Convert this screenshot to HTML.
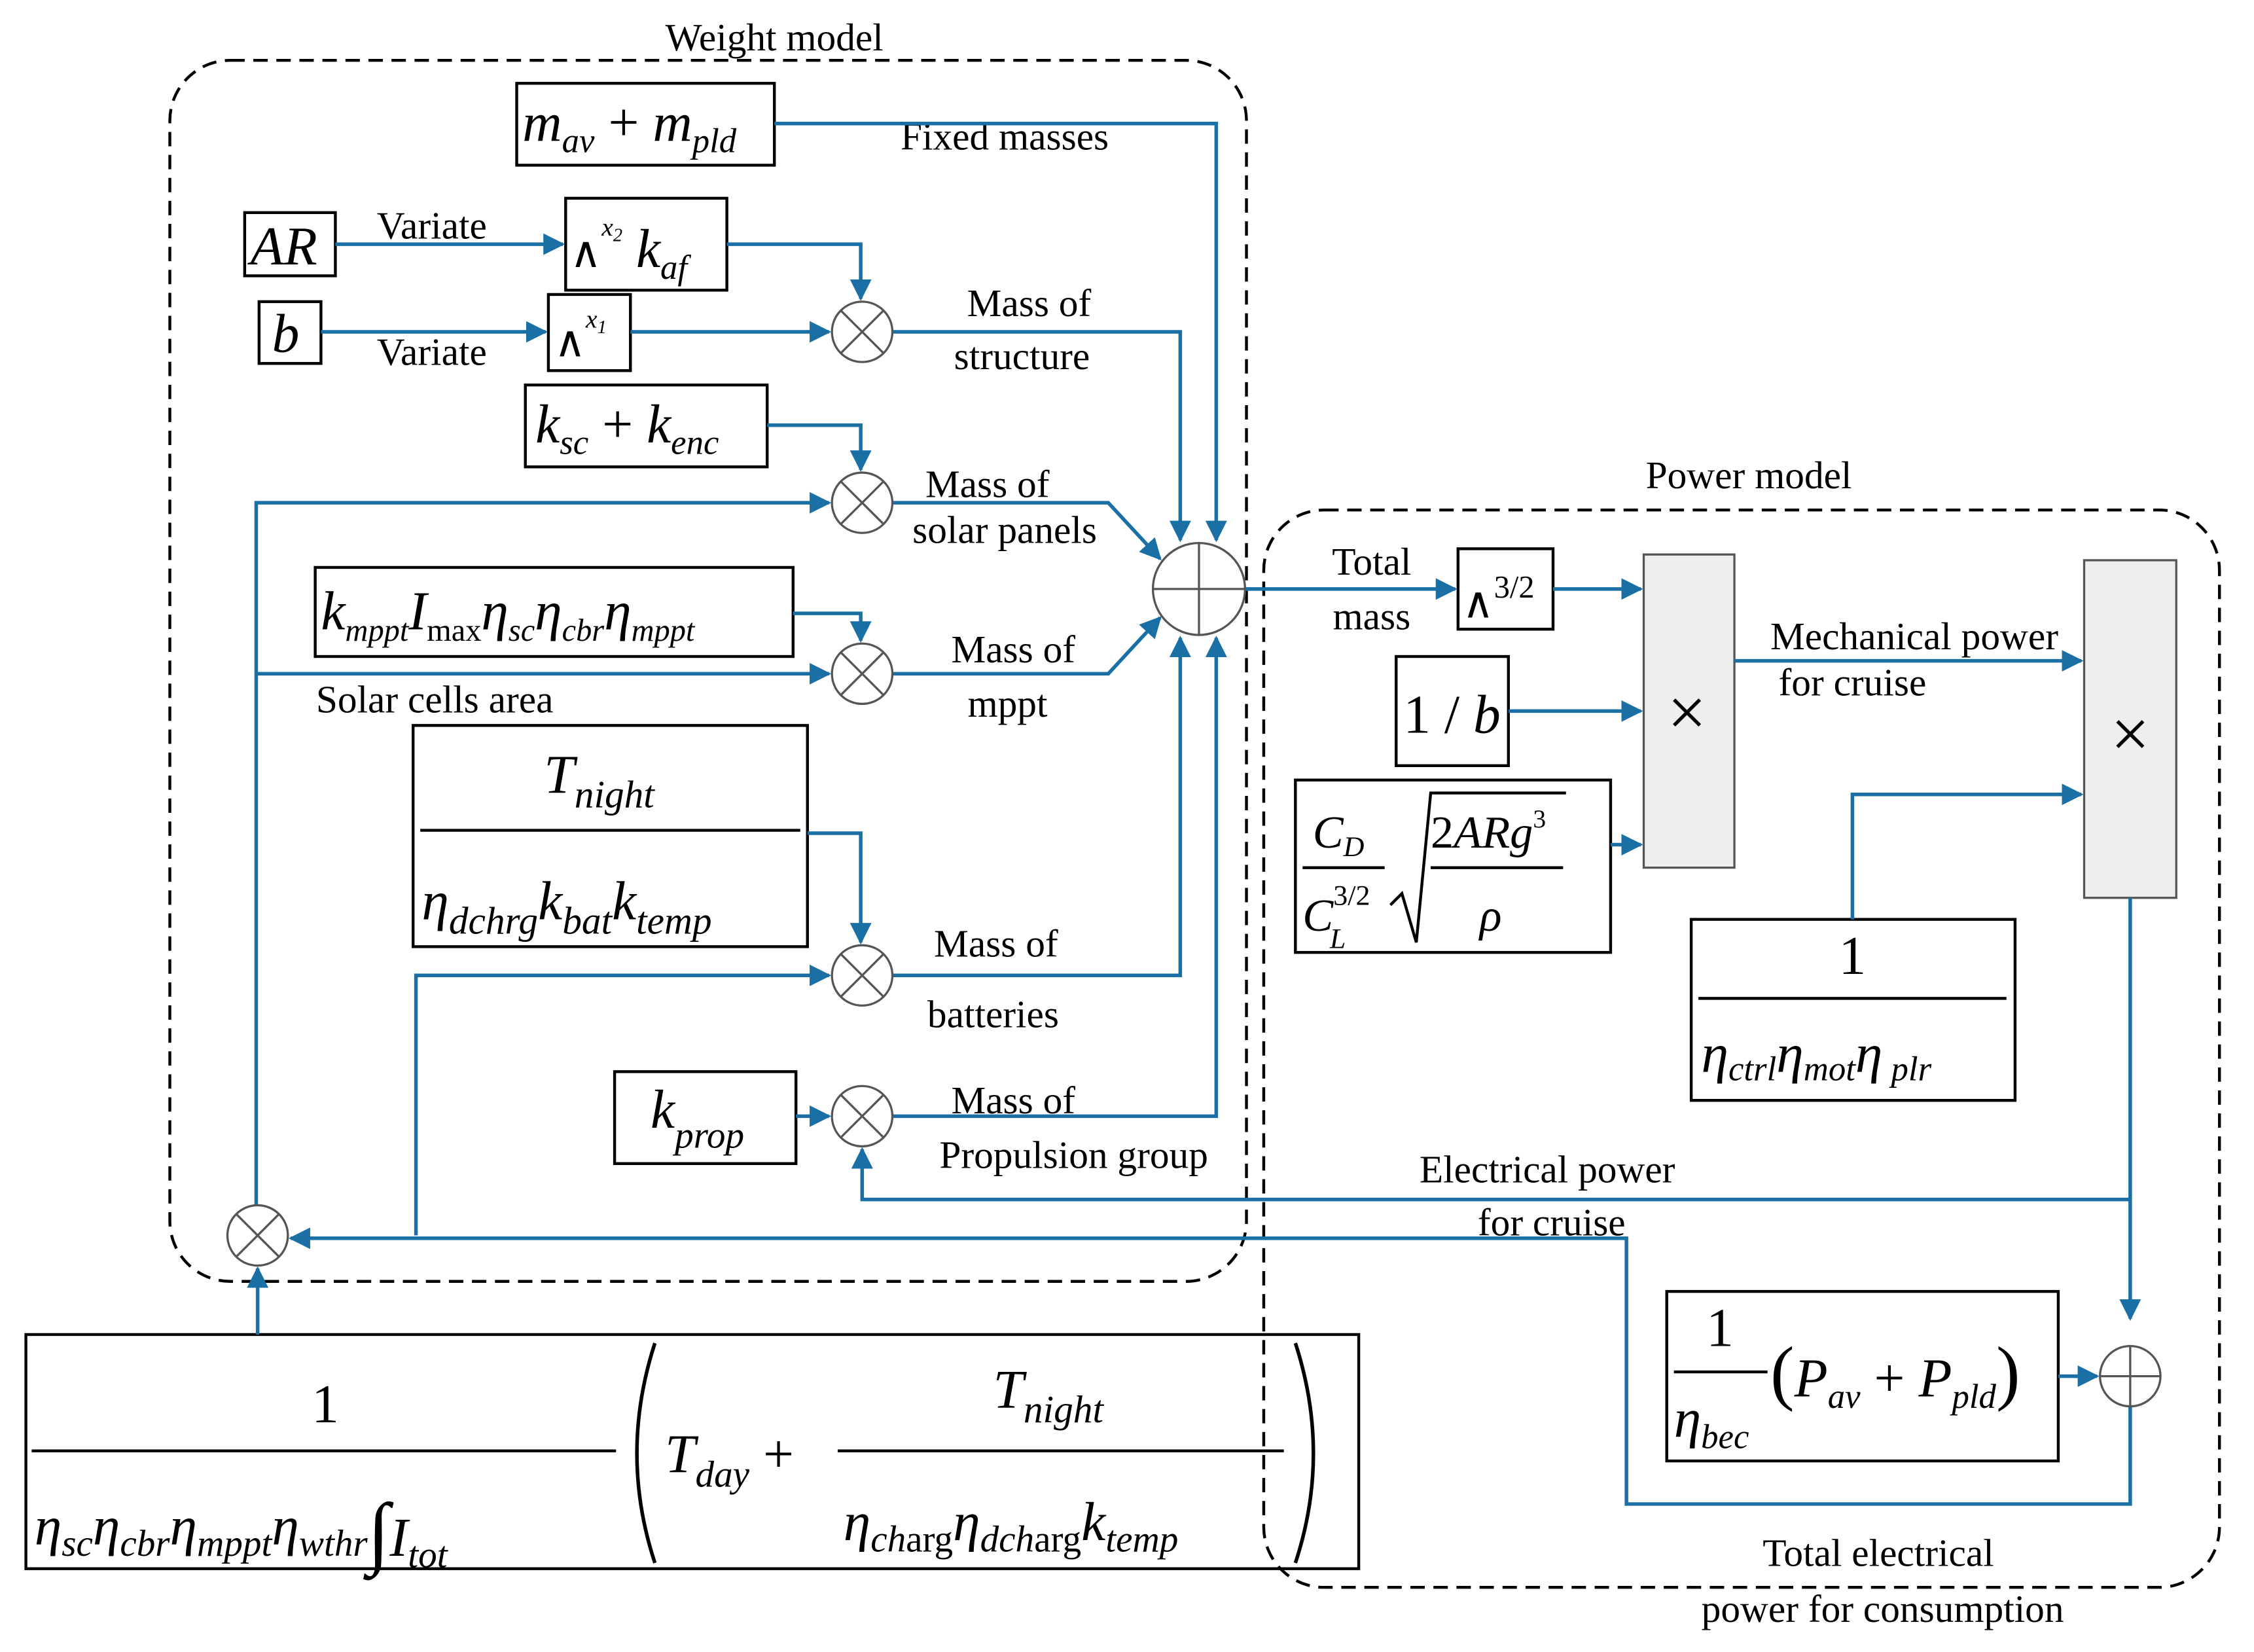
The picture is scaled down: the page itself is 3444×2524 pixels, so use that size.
<!DOCTYPE html>
<html><head><meta charset="utf-8"><style>html,body{margin:0;padding:0;background:#fff}svg{display:block}</style></head>
<body>
<svg width="3444" height="2524" viewBox="0 0 1566 1150" preserveAspectRatio="none" xmlns="http://www.w3.org/2000/svg" font-family="Liberation Serif, serif">
<defs>
<marker id="a" viewBox="0 0 10 10" refX="9" refY="5" markerWidth="6" markerHeight="6" orient="auto"><path d="M0,0 L10,5 L0,10 z" fill="#1a6fa5"/></marker>
</defs>
<rect x="118" y="42" width="748" height="850" rx="42" fill="none" stroke="#000" stroke-width="2" stroke-dasharray="10,6"/>
<rect x="878" y="355" width="664" height="750" rx="42" fill="none" stroke="#000" stroke-width="2" stroke-dasharray="10,6"/>
<g font-size="27" fill="#000">
<text x="538" y="35" text-anchor="middle">Weight model</text>
<text x="1215" y="340" text-anchor="middle">Power  model</text>
<text x="698" y="104" text-anchor="middle">Fixed masses</text>
<text x="300" y="166" text-anchor="middle">Variate</text>
<text x="300" y="254" text-anchor="middle">Variate</text>
<text x="715" y="220" text-anchor="middle">Mass of</text>
<text x="710" y="257" text-anchor="middle">structure</text>
<text x="686" y="346" text-anchor="middle">Mass of</text>
<text x="698" y="378" text-anchor="middle">solar panels</text>
<text x="704" y="461" text-anchor="middle">Mass of</text>
<text x="700" y="499" text-anchor="middle">mppt</text>
<text x="302" y="496" text-anchor="middle">Solar cells area</text>
<text x="692" y="666" text-anchor="middle">Mass of</text>
<text x="690" y="715" text-anchor="middle">batteries</text>
<text x="704" y="775" text-anchor="middle">Mass of</text>
<text x="746" y="813" text-anchor="middle">Propulsion group</text>
<text x="953" y="400" text-anchor="middle">Total</text>
<text x="953" y="438" text-anchor="middle">mass</text>
<text x="1330" y="452" text-anchor="middle">Mechanical power</text>
<text x="1287" y="484" text-anchor="middle">for cruise</text>
<text x="1075" y="823" text-anchor="middle">Electrical power</text>
<text x="1078" y="860" text-anchor="middle">for cruise</text>
<text x="1305" y="1090" text-anchor="middle">Total electrical</text>
<text x="1308" y="1129" text-anchor="middle">power for consumption</text>
</g>
<g fill="none" stroke="#000" stroke-width="2">
<rect x="359" y="58" width="179" height="57"/>
<rect x="170" y="148" width="63" height="44"/>
<rect x="393" y="138" width="112" height="64"/>
<rect x="180" y="210" width="43" height="43"/>
<rect x="381" y="205" width="57" height="53"/>
<rect x="365" y="268" width="168" height="57"/>
<rect x="219" y="395" width="332" height="62"/>
<rect x="287" y="505" width="274" height="154"/>
<rect x="427" y="746" width="126" height="64"/>
<rect x="18" y="929" width="926" height="163"/>
<rect x="1013" y="382" width="66" height="56"/>
<rect x="970" y="457" width="78" height="76"/>
<rect x="900" y="543" width="219" height="120"/>
<rect x="1175" y="640" width="225" height="126"/>
<rect x="1158" y="899" width="272" height="118"/>
</g>
<rect x="1142" y="386" width="63" height="218" fill="#eee" stroke="#555" stroke-width="1.5"/>
<rect x="1448" y="390" width="64" height="235" fill="#eee" stroke="#555" stroke-width="1.5"/>
<g fill="none" stroke="#1a6fa5" stroke-width="2.5">
<path d="M538,86 H845 V376" marker-end="url(#a)"/>
<path d="M233,170 H391" marker-end="url(#a)"/>
<path d="M505,170 H598 V208" marker-end="url(#a)"/>
<path d="M223,231 H379" marker-end="url(#a)"/>
<path d="M438,231 H576" marker-end="url(#a)"/>
<path d="M620,231 H820 V376" marker-end="url(#a)"/>
<path d="M533,296 H598 V327" marker-end="url(#a)"/>
<path d="M178,840 V350 H576" marker-end="url(#a)"/>
<path d="M620,350 H770 L806,389" marker-end="url(#a)"/>
<path d="M551,427 H598 V446" marker-end="url(#a)"/>
<path d="M178,469 H576" marker-end="url(#a)"/>
<path d="M620,469 H770 L806,430" marker-end="url(#a)"/>
<path d="M561,580 H598 V656" marker-end="url(#a)"/>
<path d="M289,860 V679 H576" marker-end="url(#a)"/>
<path d="M620,679 H820 V444" marker-end="url(#a)"/>
<path d="M553,777 H576" marker-end="url(#a)"/>
<path d="M620,777 H845 V444" marker-end="url(#a)"/>
<path d="M1480,625 V918" marker-end="url(#a)"/>
<path d="M1480,835 H599 V800" marker-end="url(#a)"/>
<path d="M1480,979 V1047 H1130 V862 H202" marker-end="url(#a)"/>
<path d="M179,929 V883" marker-end="url(#a)"/>
<path d="M865,410 H1011" marker-end="url(#a)"/>
<path d="M1079,410 H1140" marker-end="url(#a)"/>
<path d="M1048,495 H1140" marker-end="url(#a)"/>
<path d="M1119,588 H1140" marker-end="url(#a)"/>
<path d="M1205,460 H1446" marker-end="url(#a)"/>
<path d="M1287,640 V553 H1446" marker-end="url(#a)"/>
<path d="M1430,958 H1457" marker-end="url(#a)"/>
</g>
<g fill="#fff" stroke="#555" stroke-width="1.5">
<circle cx="599" cy="231" r="21"/><path d="M584,216 L614,246 M614,216 L584,246"/>
<circle cx="599" cy="350" r="21"/><path d="M584,335 L614,365 M614,335 L584,365"/>
<circle cx="599" cy="469" r="21"/><path d="M584,454 L614,484 M614,454 L584,484"/>
<circle cx="599" cy="679" r="21"/><path d="M584,664 L614,694 M614,664 L584,694"/>
<circle cx="599" cy="777" r="21"/><path d="M584,762 L614,792 M614,762 L584,792"/>
<circle cx="179" cy="860" r="21"/><path d="M164,845 L194,875 M194,845 L164,875"/>
<circle cx="833" cy="410" r="32"/><path d="M801,410 H865 M833,378 V442"/>
<circle cx="1480" cy="958" r="21"/><path d="M1459,958 H1501 M1480,937 V979"/>
</g>
<g font-size="48" fill="#000" text-anchor="middle"><text x="1172" y="512">×</text><text x="1480" y="527">×</text></g>
<g fill="#000" font-style="italic" font-size="38">
<text x="363" y="98">m<tspan font-size="24" dy="8">av</tspan><tspan font-style="normal" dy="-8"> + </tspan>m<tspan font-size="24" dy="8">pld</tspan></text>
<text x="174" y="184">AR</text>
<text x="396" y="186"><tspan font-style="normal" font-size="30">∧</tspan><tspan font-size="18" dy="-22">x</tspan><tspan font-size="13" dy="4">2</tspan><tspan dy="18"> k</tspan><tspan font-size="24" dy="8">af</tspan></text>
<text x="189" y="245">b</text>
<text x="385" y="248"><tspan font-style="normal" font-size="30">∧</tspan><tspan font-size="18" dy="-20">x</tspan><tspan font-size="13" dy="4">1</tspan></text>
<text x="372" y="308">k<tspan font-size="24" dy="8">sc</tspan><tspan font-style="normal" dy="-8"> + </tspan>k<tspan font-size="24" dy="8">enc</tspan></text>
<text x="223" y="438">k<tspan font-size="22" dy="8">mppt</tspan><tspan dy="-8">I</tspan><tspan font-size="22" font-style="normal" dy="8">max</tspan><tspan dy="-8">η</tspan><tspan font-size="22" dy="8">sc</tspan><tspan dy="-8">η</tspan><tspan font-size="22" dy="8">cbr</tspan><tspan dy="-8">η</tspan><tspan font-size="22" dy="8">mppt</tspan></text>
<text x="378" y="552">T<tspan font-size="27" dy="10">night</tspan></text>
<line x1="292" y1="578" x2="556" y2="578" stroke="#000" stroke-width="2"/>
<text x="293" y="640">η<tspan font-size="27" dy="10">dchrg</tspan><tspan dy="-10">k</tspan><tspan font-size="27" dy="10">bat</tspan><tspan dy="-10">k</tspan><tspan font-size="27" dy="10">temp</tspan></text>
<text x="452" y="785">k<tspan font-size="26" dy="14">prop</tspan></text>
<text x="1016" y="430"><tspan font-style="normal" font-size="30">∧</tspan><tspan font-size="22" font-style="normal" dy="-14">3/2</tspan></text>
<text x="975" y="510" font-style="normal">1 / <tspan font-style="italic">b</tspan></text>
<text x="912" y="590" font-size="32">C<tspan font-size="20" dy="6">D</tspan></text>
<line x1="905" y1="604" x2="962" y2="604" stroke="#000" stroke-width="2"/>
<text x="905" y="648" font-size="32">C<tspan font-size="20" dy="-18" font-style="normal">3/2</tspan><tspan font-size="20" dx="-28" dy="30">L</tspan></text>
<path d="M966,630 L974,622 L984,656 L994,552 L1088,552" fill="none" stroke="#000" stroke-width="2"/>
<text x="994" y="590" font-size="32"><tspan font-style="normal">2</tspan>ARg<tspan font-size="18" font-style="normal" dy="-14">3</tspan></text>
<line x1="994" y1="604" x2="1086" y2="604" stroke="#000" stroke-width="2"/>
<text x="1028" y="648" font-size="32">ρ</text>
<text x="1287" y="678" font-style="normal" text-anchor="middle">1</text>
<line x1="1180" y1="695" x2="1394" y2="695" stroke="#000" stroke-width="2"/>
<text x="1182" y="746">η<tspan font-size="24" dy="6">ctrl</tspan><tspan dy="-6">η</tspan><tspan font-size="24" dy="6">mot</tspan><tspan dy="-6">η</tspan><tspan font-size="24" dy="6"> plr</tspan></text>
<text x="1195" y="937" font-style="normal" text-anchor="middle">1</text>
<line x1="1163" y1="955" x2="1228" y2="955" stroke="#000" stroke-width="2"/>
<text x="1163" y="1000">η<tspan font-size="24" dy="8">bec</tspan></text>
<text x="1230" y="972"><tspan font-style="normal" font-size="50">(</tspan>P<tspan font-size="24" dy="8">av</tspan><tspan font-style="normal" dy="-8"> + </tspan>P<tspan font-size="24" dy="8">pld</tspan><tspan font-style="normal" font-size="50" dy="-8">)</tspan></text>
<text x="226" y="990" font-style="normal" text-anchor="middle">1</text>
<line x1="22" y1="1010" x2="428" y2="1010" stroke="#000" stroke-width="2"/>
<text x="24" y="1075">η<tspan font-size="26" dy="8">sc</tspan><tspan dy="-8">η</tspan><tspan font-size="26" dy="8">cbr</tspan><tspan dy="-8">η</tspan><tspan font-size="26" dy="8">mppt</tspan><tspan dy="-8">η</tspan><tspan font-size="26" dy="8">wthr</tspan><tspan font-size="56" font-style="normal" dy="2">∫</tspan><tspan dy="-2">I</tspan><tspan font-size="26" dy="8">tot</tspan></text>
<path d="M455,935 Q430,1012 455,1088 M900,935 Q925,1012 900,1088" fill="none" stroke="#000" stroke-width="2.5"/>
<text x="462" y="1025">T<tspan font-size="26" dy="10">day</tspan><tspan font-style="normal" dy="-10"> + </tspan></text>
<text x="690" y="980">T<tspan font-size="27" dy="10">night</tspan></text>
<line x1="582" y1="1010" x2="892" y2="1010" stroke="#000" stroke-width="2"/>
<text x="586" y="1072">η<tspan font-size="26" dy="8">ch</tspan><tspan font-size="26" font-style="normal">arg</tspan><tspan dy="-8">η</tspan><tspan font-size="26" dy="8">dch</tspan><tspan font-size="26" font-style="normal">arg</tspan><tspan dy="-8">k</tspan><tspan font-size="26" dy="8">temp</tspan></text>
</g>
</svg>
</body></html>
